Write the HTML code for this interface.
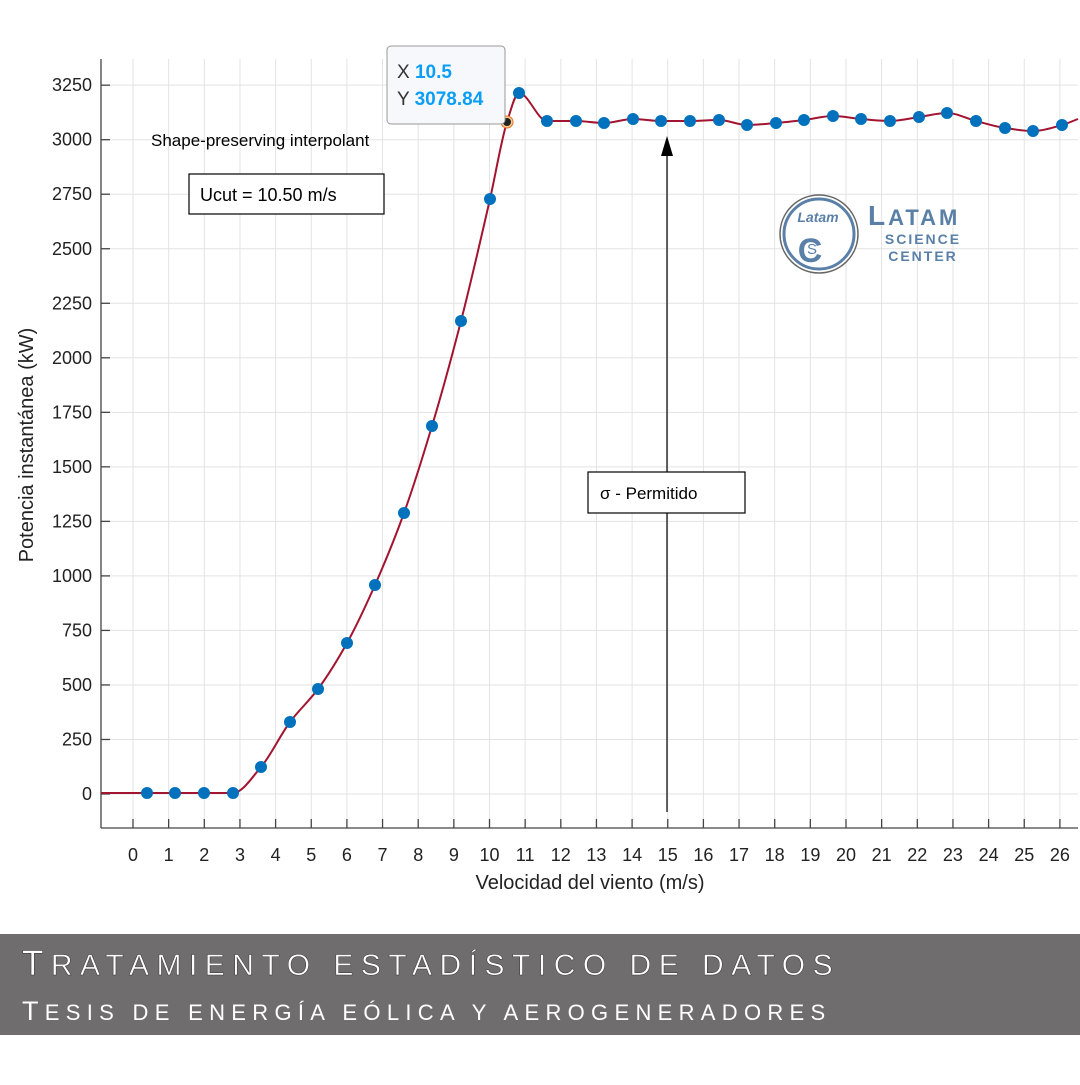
<!DOCTYPE html>
<html><head><meta charset="utf-8"><style>
body{margin:0;width:1080px;height:1080px;background:#fff;overflow:hidden;font-family:"Liberation Sans",Arial,sans-serif}
</style></head><body>
<svg width="1080" height="1080" viewBox="0 0 1080 1080" xmlns="http://www.w3.org/2000/svg" font-family="Liberation Sans, Arial, sans-serif">
<g id="grid" stroke="#e3e3e3" stroke-width="1"></g>
<g id="axes" stroke="#444" stroke-width="1.3" fill="none">
<line x1="101" y1="59" x2="101" y2="828"/>
<line x1="101" y1="828" x2="1078" y2="828"/>
</g>
<g id="ticks" stroke="#444" stroke-width="1.3"></g>
<g id="labels" font-size="18" fill="#222"></g>
<text x="590" y="889" font-size="20" fill="#222" text-anchor="middle">Velocidad del viento (m/s)</text>
<text transform="translate(33,445) rotate(-90)" font-size="20" fill="#222" text-anchor="middle">Potencia instantánea (kW)</text>
<text x="151" y="146" font-size="17" fill="#000">Shape-preserving interpolant</text>
<rect x="189" y="174" width="195" height="40" fill="#fff" stroke="#000" stroke-width="1.2"/>
<text x="200" y="201" font-size="18" fill="#000">Ucut = 10.50 m/s</text>
<line x1="667" y1="812" x2="667" y2="150" stroke="#000" stroke-width="1.2"/>
<polygon points="667,136 661,156 673,156" fill="#000"/>
<rect x="588" y="472" width="157" height="41" fill="#fff" stroke="#000" stroke-width="1.2"/>
<text x="600" y="499" font-size="17" fill="#000">σ - Permitido</text>
<path id="curve" fill="none" stroke="#a2142f" stroke-width="2"/>
<g id="pts" fill="#0072bd"></g>
<circle cx="507" cy="122" r="6" fill="#f7c98a" stroke="#e8702a" stroke-width="1"/>
<circle cx="507" cy="122" r="4" fill="#222"/>
<rect x="387" y="46" width="118" height="78" rx="4" fill="#f7f8fc" stroke="#999" stroke-width="1"/>
<text x="397" y="78" font-size="19" fill="#333">X <tspan fill="#0a9ef5" font-weight="bold">10.5</tspan></text>
<text x="397" y="105" font-size="19" fill="#333">Y <tspan fill="#0a9ef5" font-weight="bold">3078.84</tspan></text>
<g>
<circle cx="819" cy="234" r="39" fill="#fff" stroke="#666" stroke-width="1.5"/>
<circle cx="819" cy="234" r="35" fill="none" stroke="#5a80a8" stroke-width="3"/>
<text x="818" y="222" font-size="14" font-style="italic" font-weight="bold" fill="#5a80a8" text-anchor="middle">Latam</text>
<text x="810" y="262" font-size="34" font-weight="bold" fill="#5a80a8" text-anchor="middle">C</text>
<text x="812" y="254" font-size="15" fill="#5a80a8" text-anchor="middle">S</text>
<text x="868" y="225" font-size="28" font-weight="bold" fill="#5a80a8" letter-spacing="3">L<tspan font-size="22">ATAM</tspan></text>
<text x="923" y="244" font-size="14" font-weight="bold" fill="#5a80a8" text-anchor="middle" letter-spacing="2">SCIENCE</text>
<text x="923" y="261" font-size="14" font-weight="bold" fill="#5a80a8" text-anchor="middle" letter-spacing="2">CENTER</text>
</g>
<rect x="0" y="934" width="1080" height="101" fill="#6f6d6e"/>
<text x="22" y="975" font-size="35" fill="#fff" stroke="#333" stroke-width="0.5" letter-spacing="7.5">T<tspan font-size="30">RATAMIENTO ESTADÍSTICO DE DATOS</tspan></text>
<text x="22" y="1020" font-size="27" fill="#fff" letter-spacing="6.3">T<tspan font-size="22">ESIS DE ENERGÍA EÓLICA Y AEROGENERADORES</tspan></text>
</svg>
<script>
const NS="http://www.w3.org/2000/svg";
function el(p,t,a,txt){const e=document.createElementNS(NS,t);for(const k in a)e.setAttribute(k,a[k]);if(txt!=null)e.textContent=txt;document.getElementById(p).appendChild(e);}
const X=v=>133+v*35.65, Y=v=>794-v*0.2181;
for(let i=0;i<=26;i++){el("grid","line",{x1:X(i),y1:59,x2:X(i),y2:828});el("ticks","line",{x1:X(i),y1:828,x2:X(i),y2:819});el("labels","text",{x:X(i),y:861,"text-anchor":"middle"},i);}
for(let v=0;v<=3250;v+=250){el("grid","line",{x1:101,y1:Y(v),x2:1078,y2:Y(v)});el("ticks","line",{x1:101,y1:Y(v),x2:110,y2:Y(v)});el("labels","text",{x:92,y:Y(v)+6,"text-anchor":"end"},v);}
const P=[[147,793],[175,793],[204,793],[233,793],[261,767],[290,722],[318,689],[347,643],[375,585],[404,513],[432,426],[461,321],[490,199],[519,93],[547,121],[576,121],[604,123],[633,119],[661,121],[690,121],[719,120],[747,125],[776,123],[804,120],[833,116],[861,119],[890,121],[919,117],[947,113],[976,121],[1005,128],[1033,131],[1062,125]];
P.forEach(p=>el("pts","circle",{cx:p[0],cy:p[1],r:6}));
const K=[[101,793]].concat(P.slice(0,13),[[507,122]],P.slice(13),[[1078,119]]);
const n=K.length,h=[],d=[],m=new Array(n);
for(let i=0;i<n-1;i++){h[i]=K[i+1][0]-K[i][0];d[i]=(K[i+1][1]-K[i][1])/h[i];}
m[0]=d[0];m[n-1]=d[n-2];
for(let i=1;i<n-1;i++){if(d[i-1]*d[i]<=0)m[i]=0;else{const w1=2*h[i]+h[i-1],w2=h[i]+2*h[i-1];m[i]=(w1+w2)/(w1/d[i-1]+w2/d[i]);}}
let s="M"+K[0][0]+","+K[0][1];
for(let i=0;i<n-1;i++){const a=K[i],b=K[i+1],t=h[i]/3;s+=` C${a[0]+t},${a[1]+m[i]*t} ${b[0]-t},${b[1]-m[i+1]*t} ${b[0]},${b[1]}`;}
document.getElementById("curve").setAttribute("d",s);
</script>
</body></html>
